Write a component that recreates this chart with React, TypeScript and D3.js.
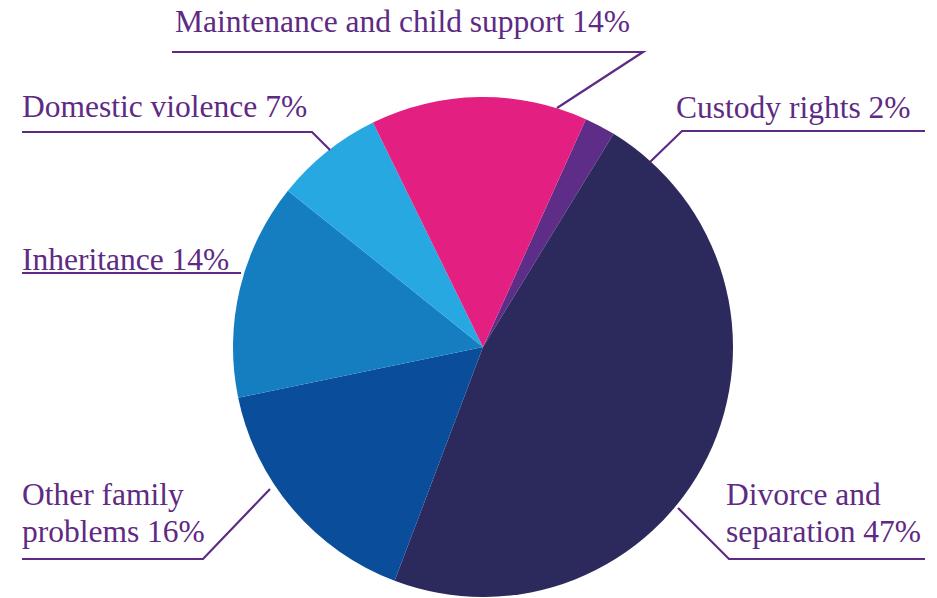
import React from "react";
import * as d3 from "d3";

const categories = [
  "Custody rights",
  "Divorce and separation",
  "Other family problems",
  "Inheritance",
  "Domestic violence",
  "Maintenance and child support",
];
const values = [2, 47, 16, 14, 7, 14];
const colors = ["#5E2D87", "#2C295C", "#0A4D9B", "#147EC1", "#27A8E1", "#E32082"];

// label text lines and leader geometry (layout)
const labelLines: string[][] = [
  ["Custody rights 2%"],
  ["Divorce and", "separation 47%"],
  ["Other family", "problems 16%"],
  ["Inheritance 14%"],
  ["Domestic violence 7%"],
  ["Maintenance and child support 14%"],
];

const W = 937;
const H = 598;
const cx = 483;
const cy = 347;
const R = 250;
const startDeg = 24.3;
const purple = "#5E2A84";

type Label = {
  x: number;
  y: number;
  anchor: "start" | "end";
  line: [number, number][];
};

const labelLayout: Label[] = [
  { x: 676, y: 118, anchor: "start", line: [[925, 131], [682, 131], [650, 162]] },
  { x: 726, y: 505, anchor: "start", line: [[925, 559], [729, 559], [678, 508]] },
  { x: 22, y: 505, anchor: "start", line: [[22, 559], [203, 559], [270, 489]] },
  { x: 22, y: 270, anchor: "start", line: [[22, 273], [241, 273]] },
  { x: 22, y: 117, anchor: "start", line: [[22, 132], [312, 132], [330, 150]] },
  { x: 175, y: 32, anchor: "start", line: [[172, 52], [643, 52], [557, 108]] },
];

export default function App() {
  const pie = d3
    .pie<number>()
    .sort(null)
    .startAngle((startDeg * Math.PI) / 180)
    .endAngle((startDeg * Math.PI) / 180 + 2 * Math.PI)(values);
  const arc = d3.arc<d3.PieArcDatum<number>>().innerRadius(0).outerRadius(R);
  const lineGen = d3.line();

  return (
    <svg width={W} height={H} style={{ position: "absolute", left: 0, top: 0, background: "#fff" }}>
      <g transform={`translate(${cx},${cy})`}>
        {pie.map((d, i) => (
          <path key={categories[i]} d={arc(d) || ""} fill={colors[i]} />
        ))}
      </g>
      {labelLayout.map((l, i) => (
        <g key={"l" + i}>
          <path d={lineGen(l.line) || ""} fill="none" stroke={purple} strokeWidth={2.2} />
          <text
            x={l.x}
            y={l.y}
            fill={purple}
            fontFamily="'Liberation Serif', serif"
            fontSize={31.5}
            textAnchor={l.anchor}
          >
            {labelLines[i].map((t, j) => (
              <tspan key={j} x={l.x} dy={j === 0 ? 0 : 37}>
                {t}
              </tspan>
            ))}
          </text>
        </g>
      ))}
    </svg>
  );
}
